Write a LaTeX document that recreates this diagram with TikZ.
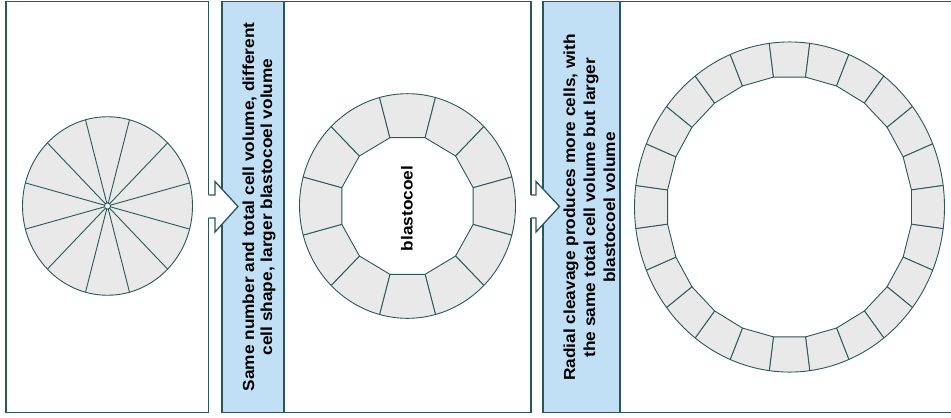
\documentclass[tikz,border=0pt]{standalone}
\usepackage{fontspec}
\setmainfont{Liberation Sans}
\newfontfamily\labelfont[FakeStretch=1.08]{Liberation Sans}

\definecolor{rule}{RGB}{42,88,88}
\definecolor{band}{RGB}{193,224,245}
\definecolor{cellfill}{RGB}{233,233,233}

\tikzset{
  frame/.style={draw=rule, line width=1.3bp},
  cellwall/.style={draw=rule, line width=0.9bp, fill=cellfill, line join=round},
  wall/.style={draw=rule, line width=0.9bp},
  notch/.style={draw=rule, fill=white, line width=1.3bp, line join=miter},
  caption/.style={rotate=90, align=center, inner sep=0pt,
    font=\labelfont\bfseries\fontsize{16bp}{18bp}\selectfont},
}

\begin{document}
\begin{tikzpicture}[x=1bp, y=-1bp]
\useasboundingbox (0,0) rectangle (951,417);

% first panel: the early embryo
\draw[frame] (208.5,195) -- (208.5,1.5) -- (6,1.5) -- (6,412.7) -- (208.5,412.7) -- (208.5,218);

% second panel with its caption band
\fill[band] (222,1.5) rectangle (284,412.7);
\draw[frame] (531,195) -- (531,1.5) -- (222,1.5) -- (222,412.7) -- (531,412.7) -- (531,218);
\draw[frame] (284,1.5) -- (284,412.7);

% third panel with its caption band (open to the right)
\fill[band] (543,1.5) rectangle (620,412.7);
\draw[frame] (951,1.5) -- (543,1.5) -- (543,412.7) -- (951,412.7);
\draw[frame] (620,1.5) -- (620,412.7);

% block arrows between the panels
\draw[notch] (208.5,195) -- (215,195) -- (215,181.5) -- (238,206.5) -- (215,232) -- (215,218) -- (208.5,218);
\draw[notch] (531,195) -- (536,195) -- (536,181.5) -- (559.5,206.5) -- (536,232) -- (536,218) -- (531,218);

% twelve wedge-shaped cells around a tiny cavity
\begin{scope}[shift={(107.5,206)}, yscale=1.05]
  \filldraw[cellwall] (0,0) circle[radius=85];
  \foreach \a in {15,45,...,345}
    \draw[wall] (\a:3) -- (\a:85);
  \filldraw[fill=white, draw=rule, line width=0.9bp] (0,0) circle[radius=3];
\end{scope}

% twelve cells in a ring around a larger cavity
\begin{scope}[shift={(407.5,206)}, yscale=1.04]
  \foreach \a [evaluate=\a as \b using \a+30] in {15,45,...,345}
    \filldraw[cellwall] (\a:68) -- (\a:108)
      arc[start angle=\a, end angle=\b, radius=108] -- (\b:68) -- cycle;
\end{scope}
\node[caption] (cavity) at (407,208.5) {blastocoel};

% twenty-four cells in a thin ring
\begin{scope}[shift={(789.5,207)}, yscale=1.065]
  \foreach \a [evaluate=\a as \b using \a+15] in {7.5,22.5,...,352.5}
    \filldraw[cellwall] (\a:123) -- (\a:155)
      arc[start angle=\a, end angle=\b, radius=155] -- (\b:123) -- cycle;
\end{scope}

% captions
\node[caption] (note1) at (259,207)
  {Same number and total cell volume, different\\cell shape, larger blastocoel volume};
\node[caption, font=\labelfont\bfseries\fontsize{16bp}{20bp}\selectfont] (note2) at (589.5,207.5)
  {Radial cleavage produces more cells, with\\the same total cell volume but larger\\blastocoel volume};
\end{tikzpicture}
\end{document}
